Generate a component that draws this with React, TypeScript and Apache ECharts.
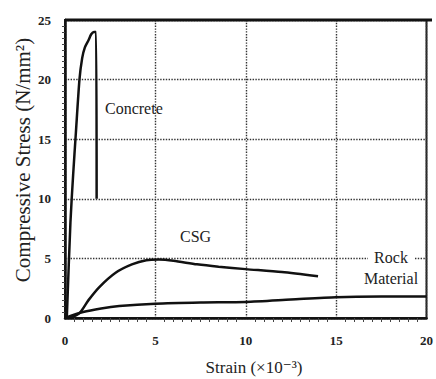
import React, { useEffect, useRef } from "react";
import * as echarts from "echarts";

const concrete: [number, number][] = [
  [0.1, 0], [0.3, 8], [0.45, 12], [0.6, 15.5], [0.8, 20], [0.95, 21.8], [1.1, 22.7],
  [1.3, 23.3], [1.45, 23.8], [1.6, 24], [1.72, 24], [1.75, 10],
];
const csg: [number, number][] = [
  [0.3, 0], [0.8, 0.4], [1.3, 1.5], [1.9, 2.6], [2.8, 3.8], [3.7, 4.5],
  [4.5, 4.85], [5.2, 4.9], [6, 4.8], [7.3, 4.5], [8.5, 4.3], [10, 4.1],
  [12, 3.85], [14, 3.5],
];
const rock: [number, number][] = [
  [0, 0], [1, 0.5], [2, 0.8], [3, 1.0], [5, 1.2], [7.5, 1.3], [10, 1.35],
  [12.5, 1.55], [15, 1.75], [17.5, 1.8], [20, 1.8],
];
const xTicks = [0, 5, 10, 15, 20];
const yTicks = [0, 5, 10, 15, 20, 25];

const FONT = "'Liberation Serif', 'DejaVu Serif', serif";

export default function App() {
  const ref = useRef<HTMLDivElement>(null);
  useEffect(() => {
    const chart = echarts.init(ref.current!, null, { renderer: "svg" });
    const lineStyle = { color: "#111", width: 2.5 };
    const mkSeries = (name: string, data: [number, number][]) => ({
      name,
      type: "line",
      data,
      showSymbol: false,
      smooth: 0.25,
      lineStyle,
      itemStyle: { color: "#111" },
    });
    const gridLine = { show: true, lineStyle: { color: "#333", type: "dotted", width: 1.4 } };
    chart.setOption({
      animation: false,
      backgroundColor: "#fff",
      textStyle: { fontFamily: FONT },
      grid: {
        left: 65, right: 4, top: 20, bottom: 61,
        show: true, borderColor: "#222", borderWidth: 2,
      },
      xAxis: {
        type: "value",
        min: xTicks[0],
        max: xTicks[xTicks.length - 1],
        interval: 5,
        axisLine: { lineStyle: { color: "#111", width: 2.5 } },
        axisTick: { show: false },
        minorTick: { show: true, splitNumber: 10, length: 4, inside: true, lineStyle: { color: "#444", width: 1 } },
        axisLabel: { fontFamily: FONT, fontSize: 13, fontWeight: "bold", color: "#222", margin: 16 },
        splitLine: gridLine,
      },
      yAxis: {
        type: "value",
        min: yTicks[0],
        max: yTicks[yTicks.length - 1],
        interval: 5,
        axisLine: { show: true, lineStyle: { color: "#111", width: 2.5 } },
        axisTick: { show: false },
        minorTick: { show: true, splitNumber: 10, length: 3, lineStyle: { color: "#444", width: 1 } },
        axisLabel: { fontFamily: FONT, fontSize: 13, fontWeight: "bold", color: "#222", margin: 14 },
        splitLine: gridLine,
      },
      series: [
        mkSeries("Concrete", concrete),
        mkSeries("CSG", csg),
        mkSeries("Rock Material", rock),
      ],
      graphic: [
        { type: "line", z: 100, shape: { x1: 65, y1: 20, x2: 432, y2: 20 }, style: { stroke: "#111", lineWidth: 3 } },
        { type: "text", z: 100, left: 105, top: 100, style: { text: "Concrete", font: `16px ${FONT}`, fill: "#222" } },
        { type: "text", z: 100, left: 180, top: 228, style: { text: "CSG", font: `16px ${FONT}`, fill: "#222" } },
        { type: "rect", z: 99, shape: { x: 368, y: 247, width: 46, height: 20 }, style: { fill: "#fff" } },
        { type: "text", z: 100, x: 391, y: 247, style: { text: "Rock\nMaterial", font: `16px ${FONT}`, fill: "#222", align: "center", lineHeight: 21 } },
        { type: "text", z: 100, x: 254, y: 367, style: { text: "Strain (×10⁻³)", font: `17px ${FONT}`, fill: "#222", align: "center", verticalAlign: "middle" } },
        { type: "text", z: 100, x: 23, y: 160, rotation: Math.PI / 2, style: { text: "Compressive Stress (N/mm²)", font: `21px ${FONT}`, fill: "#222", align: "center", verticalAlign: "middle" } },
      ],
    });
    return () => chart.dispose();
  }, []);
  return <div ref={ref} style={{ position: "fixed", left: 0, top: 0, width: 436, height: 379 }} />;
}
